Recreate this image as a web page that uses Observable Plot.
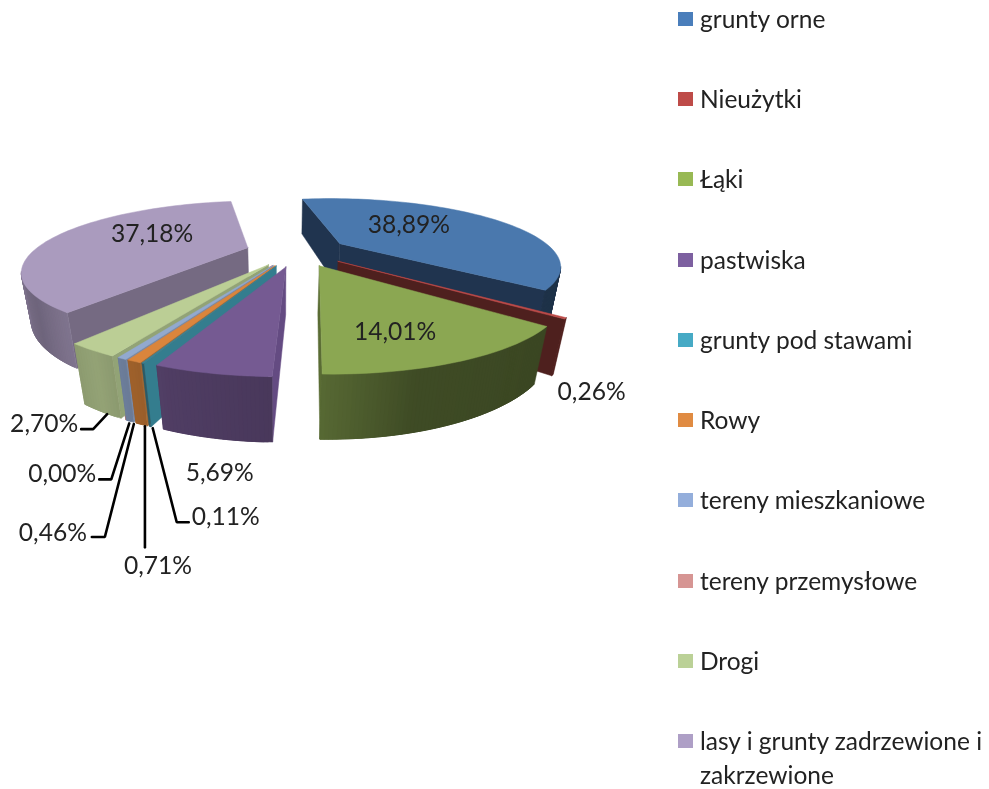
<!DOCTYPE html>
<html lang="pl">
<head>
<meta charset="utf-8">
<script src="https://cdn.jsdelivr.net/npm/d3@7"></script>
<script src="https://cdn.jsdelivr.net/npm/@observablehq/plot@0.6"></script>
<style>
  html, body { margin: 0; padding: 0; background: #fff; }
  #page { position: relative; width: 989px; height: 789px; overflow: hidden; font-family: Lato, "Open Sans", sans-serif; color: #222; }
  #chart svg { display: block; filter: blur(0.6px); }
  #legend { position: absolute; left: 678px; top: 0; width: 311px; filter: blur(0.5px); }
  .row { height: 80.24px; position: relative; }
  .sw { position: absolute; left: 0; top: 12px; width: 15px; height: 14px; }
  .tx { position: absolute; left: 22px; top: 2px; width: 290px; font-size: 24.5px; line-height: 34px; white-space: normal; }
</style>
</head>
<body>
<div id="page">
  <div id="chart"></div>
  <div id="legend"></div>
</div>
<script>
// ---- data ----
const categories = ["grunty orne", "Nieużytki", "Łąki", "pastwiska", "grunty pod stawami", "Rowy",
  "tereny mieszkaniowe", "tereny przemysłowe", "Drogi", "lasy i grunty zadrzewione i zakrzewione"];
const values = [38.89, 0.26, 14.01, 5.69, 0.11, 0.71, 0.46, 0.00, 2.70, 37.18];
const legendColors = ["#4A7EBB", "#BE4B48", "#98B954", "#7D60A0", "#46AAC5", "#E08B42", "#94AEDB", "#D69593", "#BBD197", "#AE9FC6"];
const topColors    = ["#4A78AD", "#BE4B48", "#8BA752", "#755A92", "#3A8296", "#DA853C", "#92A9CF", "#D69593", "#BBCE95", "#AA9BBE"];
const wallColors   = ["#20344F", "#4E201E", "#5A6C34", "#644B82", "#347D8E", "#AB6A2E", "#7889A8", "#A06F6D", "#92A376", "#756A82"];

// ---- 3D pie view ----
const view = {cx: 296.5, cy: 250.5, ax: 214, ay: 63, persp: 0.3085, explode: 0.24, first: -10, tilt: 0.0345, vpx: 280, vpy: 1550};
const drawOrder = [0, 9, 1, 7, 8, 6, 5, 4, 3, 2];
const rimShade = d3.scaleLinear([60, 130, 165, 181, 200, 211, 230, 285, 350], [.45, .42, .45, .62, .68, .79, .65, .9, .9]);

// label placement relative to each slice's outer-edge point: text, then leader polyline
const labelOffsets = [[-81, 7], [26, 74], [-67, -29], [8, 99.5], [83, 154], [24, 205], [-69, 174.5], [-55, 117], [-48, 74], [93, -1]];
const leaderOffsets = [null, null, null, null,
  [[10, 65], [34, 159], [46, 159]],
  [[11, 65], [11, 186]],
  [[12, 65.5], [-17, 178.5], [-30, 178.5]],
  [[12, 66], [-6, 122], [-18, 122]],
  [[15, 64], [1, 79], [-11, 79]],
  null];

const rad = d => d * Math.PI / 180;
function topPoint(u, v) {
  const w = 1 + view.persp * v;
  return [view.cx + view.ax * u / w, view.cy - view.ay * v / w, w];
}
function bottomPoint(u, v) {
  const [x, y, w] = topPoint(u, v);
  const t = view.tilt / w;
  return [x + t * (view.vpx - x), y + t * (view.vpy - y)];
}

const total = d3.sum(values);
let cum = 0;
const slices = values.map((val, i) => {
  const a0 = view.first + cum / total * 360;
  cum += val;
  const a1 = view.first + cum / total * 360;
  const m = (a0 + a1) / 2;
  return {i, a0, a1, m,
    ou: view.explode * Math.sin(rad(m)),
    ov: view.explode * Math.cos(rad(m))};
});
const onRim = (s, a) => [s.ou + Math.sin(rad(a)), s.ov + Math.cos(rad(a))];

const faces = [];
let faceId = 0;
function addFace(points, color) {
  const id = faceId++;
  for (const [x, y] of [...points, points[0]]) faces.push({id, x, y, color});
}
const camV = -1 / view.persp;
for (const i of drawOrder) {
  const s = slices[i];
  const top = topColors[i];
  const apexT = topPoint(s.ou, s.ov), apexB = bottomPoint(s.ou, s.ov);
  // radial walls turned towards the viewer
  for (const [a, sign] of [[s.a0, 1], [s.a1, -1]]) {
    const nu = -sign * Math.cos(rad(a)), nv = sign * Math.sin(rad(a));
    if (nu * (0 - s.ou) + nv * (camV - s.ov) > 0) {
      const [u, v] = onRim(s, a);
      addFace([apexT, topPoint(u, v), bottomPoint(u, v), apexB], wallColors[i]);
    }
  }
  // outer rim in shaded strips, each reaching under the next so no seam shows
  const step = 0.75;
  const n = Math.max(1, Math.ceil((s.a1 - s.a0) / step));
  const da = (s.a1 - s.a0) / n;
  for (let k = 0; k < n; k++) {
    const p = s.a0 + da * k, q = Math.min(s.a1, p + da * 3);
    const mid = p + da / 2;
    const [mu, mv] = onRim(s, mid);
    if (Math.sin(rad(mid)) * (0 - mu) + Math.cos(rad(mid)) * (camV - mv) <= 0) continue;
    const c = d3.rgb(top), f = rimShade(((mid % 360) + 360) % 360);
    const col = d3.rgb(c.r * f, c.g * f, c.b * f).formatHex();
    const [u0, v0] = onRim(s, p), [u1, v1] = onRim(s, q);
    addFace([topPoint(u0, v0), topPoint(u1, v1), bottomPoint(u1, v1), bottomPoint(u0, v0)], col);
  }
  // top face
  const pts = [apexT];
  const m = Math.max(1, Math.ceil((s.a1 - s.a0) / 2));
  for (let k = 0; k <= m; k++) {
    const [u, v] = onRim(s, s.a0 + (s.a1 - s.a0) * k / m);
    pts.push(topPoint(u, v));
  }
  addFace(pts, top);
}

// labels and leaders, hung from the outer-edge point of each slice
const labels = slices.map((s, i) => {
  const [u, v] = onRim(s, s.m);
  const [x, y] = topPoint(u, v);
  return {x: x + labelOffsets[i][0], y: y + labelOffsets[i][1], text: values[i].toFixed(2).replace(".", ",") + "%"};
});
const leaders = slices.flatMap((s, i) => {
  if (!leaderOffsets[i]) return [];
  const [u, v] = onRim(s, s.m);
  const [x, y] = topPoint(u, v);
  return leaderOffsets[i].map(([dx, dy]) => ({i, x: x + dx, y: y + dy}));
});

const plot = Plot.plot({
  width: 989, height: 789,
  margin: 0,
  x: {domain: [0, 989], range: [0, 989], axis: null},
  y: {domain: [0, 789], range: [0, 789], axis: null},
  color: {type: "identity"},
  marks: [
    Plot.line(faces, {x: "x", y: "y", z: "id", fill: "color", stroke: "color", strokeWidth: 0.5, curve: "linear"}),
    Plot.line(leaders, {x: "x", y: "y", z: "i", stroke: "#000", strokeWidth: 2.6, strokeLinejoin: "miter", curve: "linear"}),
    Plot.text(labels, {x: "x", y: "y", text: "text", fontSize: 24.6, fill: "#222", fontFamily: "Lato, sans-serif", textAnchor: "middle"})
  ]
});
document.getElementById("chart").append(plot);

const legend = document.getElementById("legend");
categories.forEach((name, i) => {
  const row = document.createElement("div");
  row.className = "row";
  const sw = document.createElement("div");
  sw.className = "sw";
  sw.style.background = legendColors[i];
  const tx = document.createElement("div");
  tx.className = "tx";
  tx.textContent = name;
  row.append(sw, tx);
  legend.append(row);
});
</script>
</body>
</html>
